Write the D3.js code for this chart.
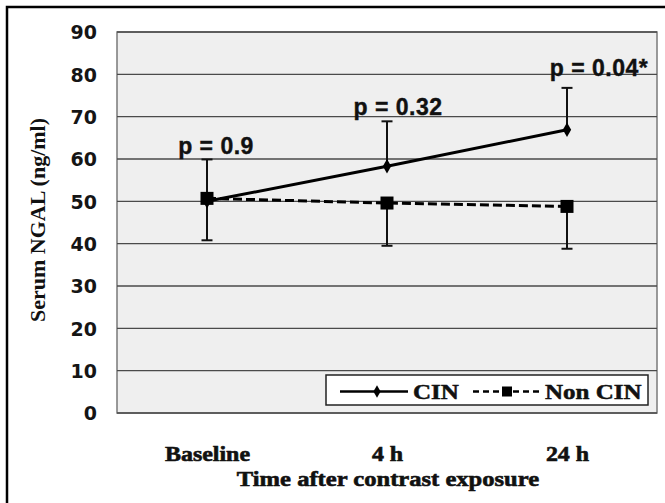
<!DOCTYPE html>
<html lang="en">
<head>
    <meta charset="UTF-8">
    <title>Serum NGAL after contrast exposure</title>
    <script src="https://d3js.org/d3.v7.min.js"></script>
    <style>
        body { margin: 0; background: #fff; }
        .tick-y { font-family: "DejaVu Sans", sans-serif; font-weight: bold; font-size: 19px; }
        .serif { font-family: "Liberation Serif", "Times New Roman", serif; font-weight: bold; }
        .pval { font-family: "Liberation Sans", Arial, sans-serif; font-weight: bold; font-size: 23px; }
    </style>
</head>
<body>
<svg id="chart" width="665" height="503"></svg>
<script>
    // data
    const categories = ["Baseline", "4 h", "24 h"];
    const cinMean = [50, 58.3, 66.9];
    const cinUpper = [59.9, 68.9, 76.8];      // top of error bar
    const nonCinMean = [50.7, 49.6, 48.8];
    const nonCinLower = [40.8, 39.5, 38.8];   // bottom of error bar
    const pLabels = ["p = 0.9", "p = 0.32", "p = 0.04*"];
    const pLabelAt = [61.2, 70.5, 79.6];      // value where each p label sits
    const yTicks = [0, 10, 20, 30, 40, 50, 60, 70, 80, 90];

    const svg = d3.select("#chart");
    const plotL = 117, plotR = 657, plotT = 32, plotB = 413;
    const pShift = [9, 11, 32];   // horizontal nudge of p labels from their category

    // the original's serif text is set wide and heavy: stretch glyphs a bit
    function widen(sel, k) {
        sel.each(function() {
            const w = this.getComputedTextLength();
            d3.select(this).attr("textLength", w * k).attr("lengthAdjust", "spacingAndGlyphs");
        });
    }

    // outer frame
    svg.append("rect")
        .attr("x", 7).attr("y", 7).attr("width", 680).attr("height", 520)
        .attr("fill", "#fff").attr("stroke", "#000").attr("stroke-width", 2.5);

    const x = d3.scalePoint().domain(categories).range([plotL, plotR]).padding(0.5);
    const y = d3.scaleLinear().domain([0, 90]).range([plotB, plotT]);

    // plot area
    svg.append("rect")
        .attr("x", plotL).attr("y", plotT).attr("width", plotR - plotL).attr("height", plotB - plotT)
        .attr("fill", "#efefef").attr("stroke", "#7a7a7a").attr("stroke-width", 1.5);

    // gridlines
    svg.append("g").selectAll("line")
        .data(yTicks)
        .enter().append("line")
        .attr("x1", plotL).attr("x2", plotR)
        .attr("y1", d => y(d)).attr("y2", d => y(d))
        .attr("stroke", "#4a4a4a").attr("stroke-width", 1.4);

    // y axis labels
    const yAxis = d3.axisLeft(y).tickValues(yTicks).tickSize(0).tickPadding(20);
    const gy = svg.append("g").attr("transform", `translate(${plotL},0)`).call(yAxis);
    gy.select(".domain").remove();
    gy.selectAll("text").attr("class", "tick-y").attr("fill", "#151515").attr("dy", "0.36em");

    // x axis labels
    const xAxis = d3.axisBottom(x).tickSize(0).tickPadding(33);
    const gx = svg.append("g").attr("transform", `translate(0,${plotB})`).call(xAxis);
    gx.select(".domain").remove();
    gx.selectAll("text").attr("class", "serif").style("font-size", "21px")
        .attr("fill", "#111").attr("stroke", "#111").attr("stroke-width", 0.6)
        .call(widen, 1.14);

    // axis titles
    svg.append("text").attr("class", "serif")
        .attr("x", 388).attr("y", 486).attr("text-anchor", "middle")
        .style("font-size", "21px")
        .attr("fill", "#111").attr("stroke", "#111").attr("stroke-width", 0.6)
        .text("Time after contrast exposure")
        .call(widen, 1.17);
    svg.append("text").attr("class", "serif")
        .attr("transform", "translate(45,220) rotate(-90)").attr("text-anchor", "middle")
        .style("font-size", "22px").attr("fill", "#111")
        .text("Serum NGAL (ng/ml)");

    // error bars
    const cap = 5.5;
    const bars = svg.append("g").attr("stroke", "#111").attr("stroke-width", 2);
    categories.forEach((c, i) => {
        [[cinMean[i], cinUpper[i]], [nonCinMean[i], nonCinLower[i]]].forEach(([m, e]) => {
            bars.append("line").attr("x1", x(c)).attr("x2", x(c)).attr("y1", y(m)).attr("y2", y(e));
            bars.append("line").attr("x1", x(c) - cap).attr("x2", x(c) + cap).attr("y1", y(e)).attr("y2", y(e));
        });
    });

    // lines
    const line = d3.line().x(d => x(d.c)).y(d => y(d.v));
    const cinData = categories.map((c, i) => ({c, v: cinMean[i]}));
    const nonData = categories.map((c, i) => ({c, v: nonCinMean[i]}));
    svg.append("path").datum(nonData).attr("d", line)
        .attr("fill", "none").attr("stroke", "#000").attr("stroke-width", 3).attr("stroke-dasharray", "9,4");
    svg.append("path").datum(cinData).attr("d", line)
        .attr("fill", "none").attr("stroke", "#000").attr("stroke-width", 3);

    // markers
    svg.append("g").selectAll("rect")
        .data(nonData).enter().append("rect")
        .attr("x", d => x(d.c) - 6.5).attr("y", d => y(d.v) - 6.5)
        .attr("width", 13).attr("height", 13).attr("fill", "#000");
    const diamond = d3.symbol().type(d3.symbolDiamond).size(60);
    svg.append("g").selectAll("path")
        .data(cinData).enter().append("path")
        .attr("transform", d => `translate(${x(d.c)},${y(d.v)})`)
        .attr("d", diamond).attr("fill", "#000");

    // p values above the error bars
    svg.append("g").selectAll("text")
        .data(pLabels).enter().append("text")
        .attr("class", "pval")
        .attr("x", (d, i) => x(categories[i]) + pShift[i])
        .attr("y", (d, i) => y(pLabelAt[i]))
        .attr("text-anchor", "middle")
        .attr("letter-spacing", "0.5")
        .attr("fill", "#111").attr("stroke", "#111").attr("stroke-width", 0.4)
        .text(d => d);

    // legend
    const lg = svg.append("g").attr("transform", "translate(326,375)");
    lg.append("rect").attr("width", 322).attr("height", 30)
        .attr("fill", "#fff").attr("stroke", "#222").attr("stroke-width", 1.5);
    lg.append("line").attr("x1", 14).attr("x2", 82).attr("y1", 16.5).attr("y2", 16.5)
        .attr("stroke", "#000").attr("stroke-width", 2.5);
    lg.append("path").attr("transform", "translate(51,16.5)").attr("d", d3.symbol().type(d3.symbolDiamond).size(45)).attr("fill", "#000");
    lg.append("text").attr("class", "serif").attr("x", 87).attr("y", 23.5)
        .style("font-size", "21px")
        .attr("fill", "#111").attr("stroke", "#111").attr("stroke-width", 0.5).text("CIN")
        .call(widen, 1.19);
    lg.append("line").attr("x1", 147).attr("x2", 213).attr("y1", 16.5).attr("y2", 16.5)
        .attr("stroke", "#000").attr("stroke-width", 2.5).attr("stroke-dasharray", "6,4");
    lg.append("rect").attr("x", 176).attr("y", 11.5).attr("width", 10).attr("height", 10).attr("fill", "#000");
    lg.append("text").attr("class", "serif").attr("x", 219).attr("y", 23.5)
        .style("font-size", "21px")
        .attr("fill", "#111").attr("stroke", "#111").attr("stroke-width", 0.5).text("Non CIN")
        .call(widen, 1.19);
</script>
</body>
</html>
